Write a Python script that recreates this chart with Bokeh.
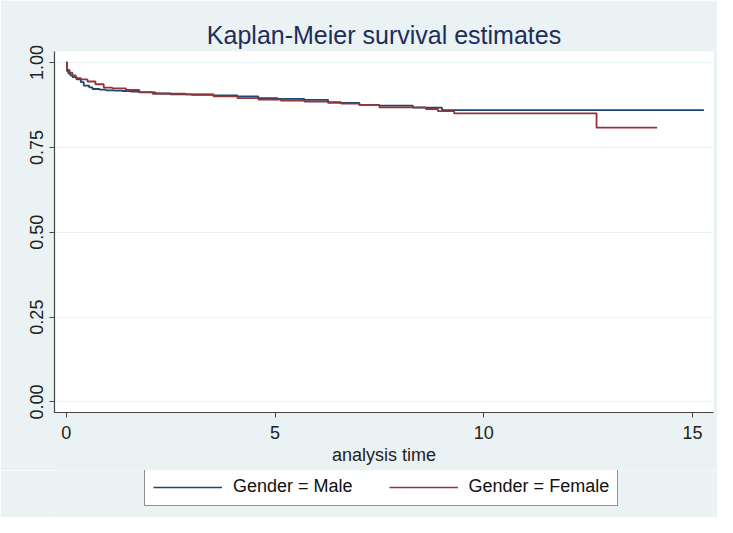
from bokeh.plotting import figure
from bokeh.layouts import column
from bokeh.models import (Range1d, FixedTicker, NumeralTickFormatter, Legend,
                          LegendItem, Title)
from bokeh.embed import file_html
from bokeh.resources import INLINE

# ---- data ----
male_t = [0, 0.02, 0.05, 0.10, 0.15, 0.25, 0.35, 0.42, 0.55, 0.63, 0.80, 0.95,
          1.15, 1.35, 1.55, 1.74, 2.14, 2.50, 3.00, 3.53, 4.10, 4.60, 5.07,
          5.70, 6.27, 6.58, 7.02, 7.50, 8.30, 9.00, 15.27]
male_s = [1.000, 0.975, 0.968, 0.962, 0.957, 0.950, 0.942, 0.932, 0.927, 0.922,
          0.920, 0.918, 0.917, 0.916, 0.914, 0.912, 0.909, 0.906, 0.905, 0.903,
          0.900, 0.895, 0.893, 0.890, 0.883, 0.881, 0.875, 0.873, 0.867, 0.860,
          0.860]

female_t = [0, 0.02, 0.08, 0.15, 0.23, 0.35, 0.51, 0.70, 0.90, 1.10, 1.43, 1.75,
            2.07, 2.86, 3.53, 4.10, 4.60, 5.14, 5.70, 6.27, 6.58, 7.02, 7.50,
            8.61, 8.90, 9.29, 12.70, 14.15]
female_s = [1.000, 0.978, 0.970, 0.962, 0.954, 0.950, 0.944, 0.936, 0.926, 0.924,
            0.919, 0.913, 0.908, 0.906, 0.900, 0.895, 0.891, 0.888, 0.885, 0.881,
            0.879, 0.875, 0.868, 0.863, 0.857, 0.850, 0.808, 0.808]

x_ticks = [0, 5, 10, 15]
y_ticks = [0, 0.25, 0.5, 0.75, 1.0]
series_labels = ["Gender = Male", "Gender = Female"]
title_text = "Kaplan-Meier survival estimates"
x_label = "analysis time"

BG = "#EAF2F3"
NAVY = "#1A476F"
MAROON = "#90353B"
FONT = "Liberation Sans"

p = figure(width=717, height=470, output_backend="svg", toolbar_location=None,
           x_range=Range1d(-0.28, 15.50), y_range=Range1d(-0.031, 1.0324),
           min_border_left=54, min_border_right=4, min_border_top=51,
           min_border_bottom=58)
p.background_fill_color = "white"
p.border_fill_color = BG
p.outline_line_color = None

t = Title(text=title_text, align="center", text_font=FONT, text_font_size="25px",
          text_font_style="normal", text_color="#1E2D5B", standoff=6)
p.add_layout(t, "above")

r1 = p.step(male_t, male_s, mode="after", line_color=NAVY, line_width=1.8)
r2 = p.step(female_t, female_s, mode="after", line_color=MAROON, line_width=1.8)

p.xgrid.visible = False
p.ygrid.grid_line_color = BG
p.ygrid.grid_line_width = 1.2
p.ygrid.ticker = FixedTicker(ticks=y_ticks)

for ax in (p.xaxis[0], p.yaxis[0]):
    ax.axis_line_color = "#444444"
    ax.axis_line_width = 1.2
    ax.major_tick_line_color = "#444444"
    ax.major_tick_in = 0
    ax.major_tick_out = 5
    ax.minor_tick_line_color = None
    ax.major_label_text_font = FONT
    ax.major_label_text_font_size = "18px"
    ax.major_label_text_color = "#222222"

p.xaxis.ticker = FixedTicker(ticks=x_ticks)
p.xaxis.major_label_standoff = 8
p.xaxis.axis_label = x_label
p.xaxis.axis_label_text_font = FONT
p.xaxis.axis_label_text_font_size = "18px"
p.xaxis.axis_label_text_font_style = "normal"
p.xaxis.axis_label_text_color = "#222222"
p.xaxis.axis_label_standoff = 3

p.yaxis.ticker = FixedTicker(ticks=y_ticks)
p.yaxis.formatter = NumeralTickFormatter(format="0.00")
p.yaxis.major_label_orientation = "vertical"
p.yaxis.major_label_standoff = 6

# ---- legend strip below the plot ----
q = figure(width=717, height=47, output_backend="svg", toolbar_location=None,
           x_range=Range1d(0, 1), y_range=Range1d(0, 1),
           x_axis_location=None, y_axis_location=None,
           min_border=0, min_border_left=0, min_border_right=0,
           min_border_top=0, min_border_bottom=0)
q.grid.visible = False
q.background_fill_color = BG
q.border_fill_color = BG
q.outline_line_color = None
d1 = q.line([-5, -4], [-5, -4], line_color=NAVY, line_width=1.5)
d2 = q.line([-5, -4], [-5, -4], line_color=MAROON, line_width=1.5)

legend = Legend(items=[LegendItem(label=series_labels[0], renderers=[d1]),
                       LegendItem(label=series_labels[1], renderers=[d2])],
                orientation="horizontal", location=(90, 11),
                border_line_color="#222222", border_line_width=1,
                background_fill_color="white", background_fill_alpha=1.0,
                label_text_font=FONT, label_text_font_size="18px",
                label_text_color="#111111",
                glyph_width=69, glyph_height=18, label_height=18,
                label_standoff=11, spacing=36, padding=8, margin=0)
q.add_layout(legend, "center")

layout = column(p, q, spacing=0)
open("out.html", "w").write(file_html(layout, INLINE))
